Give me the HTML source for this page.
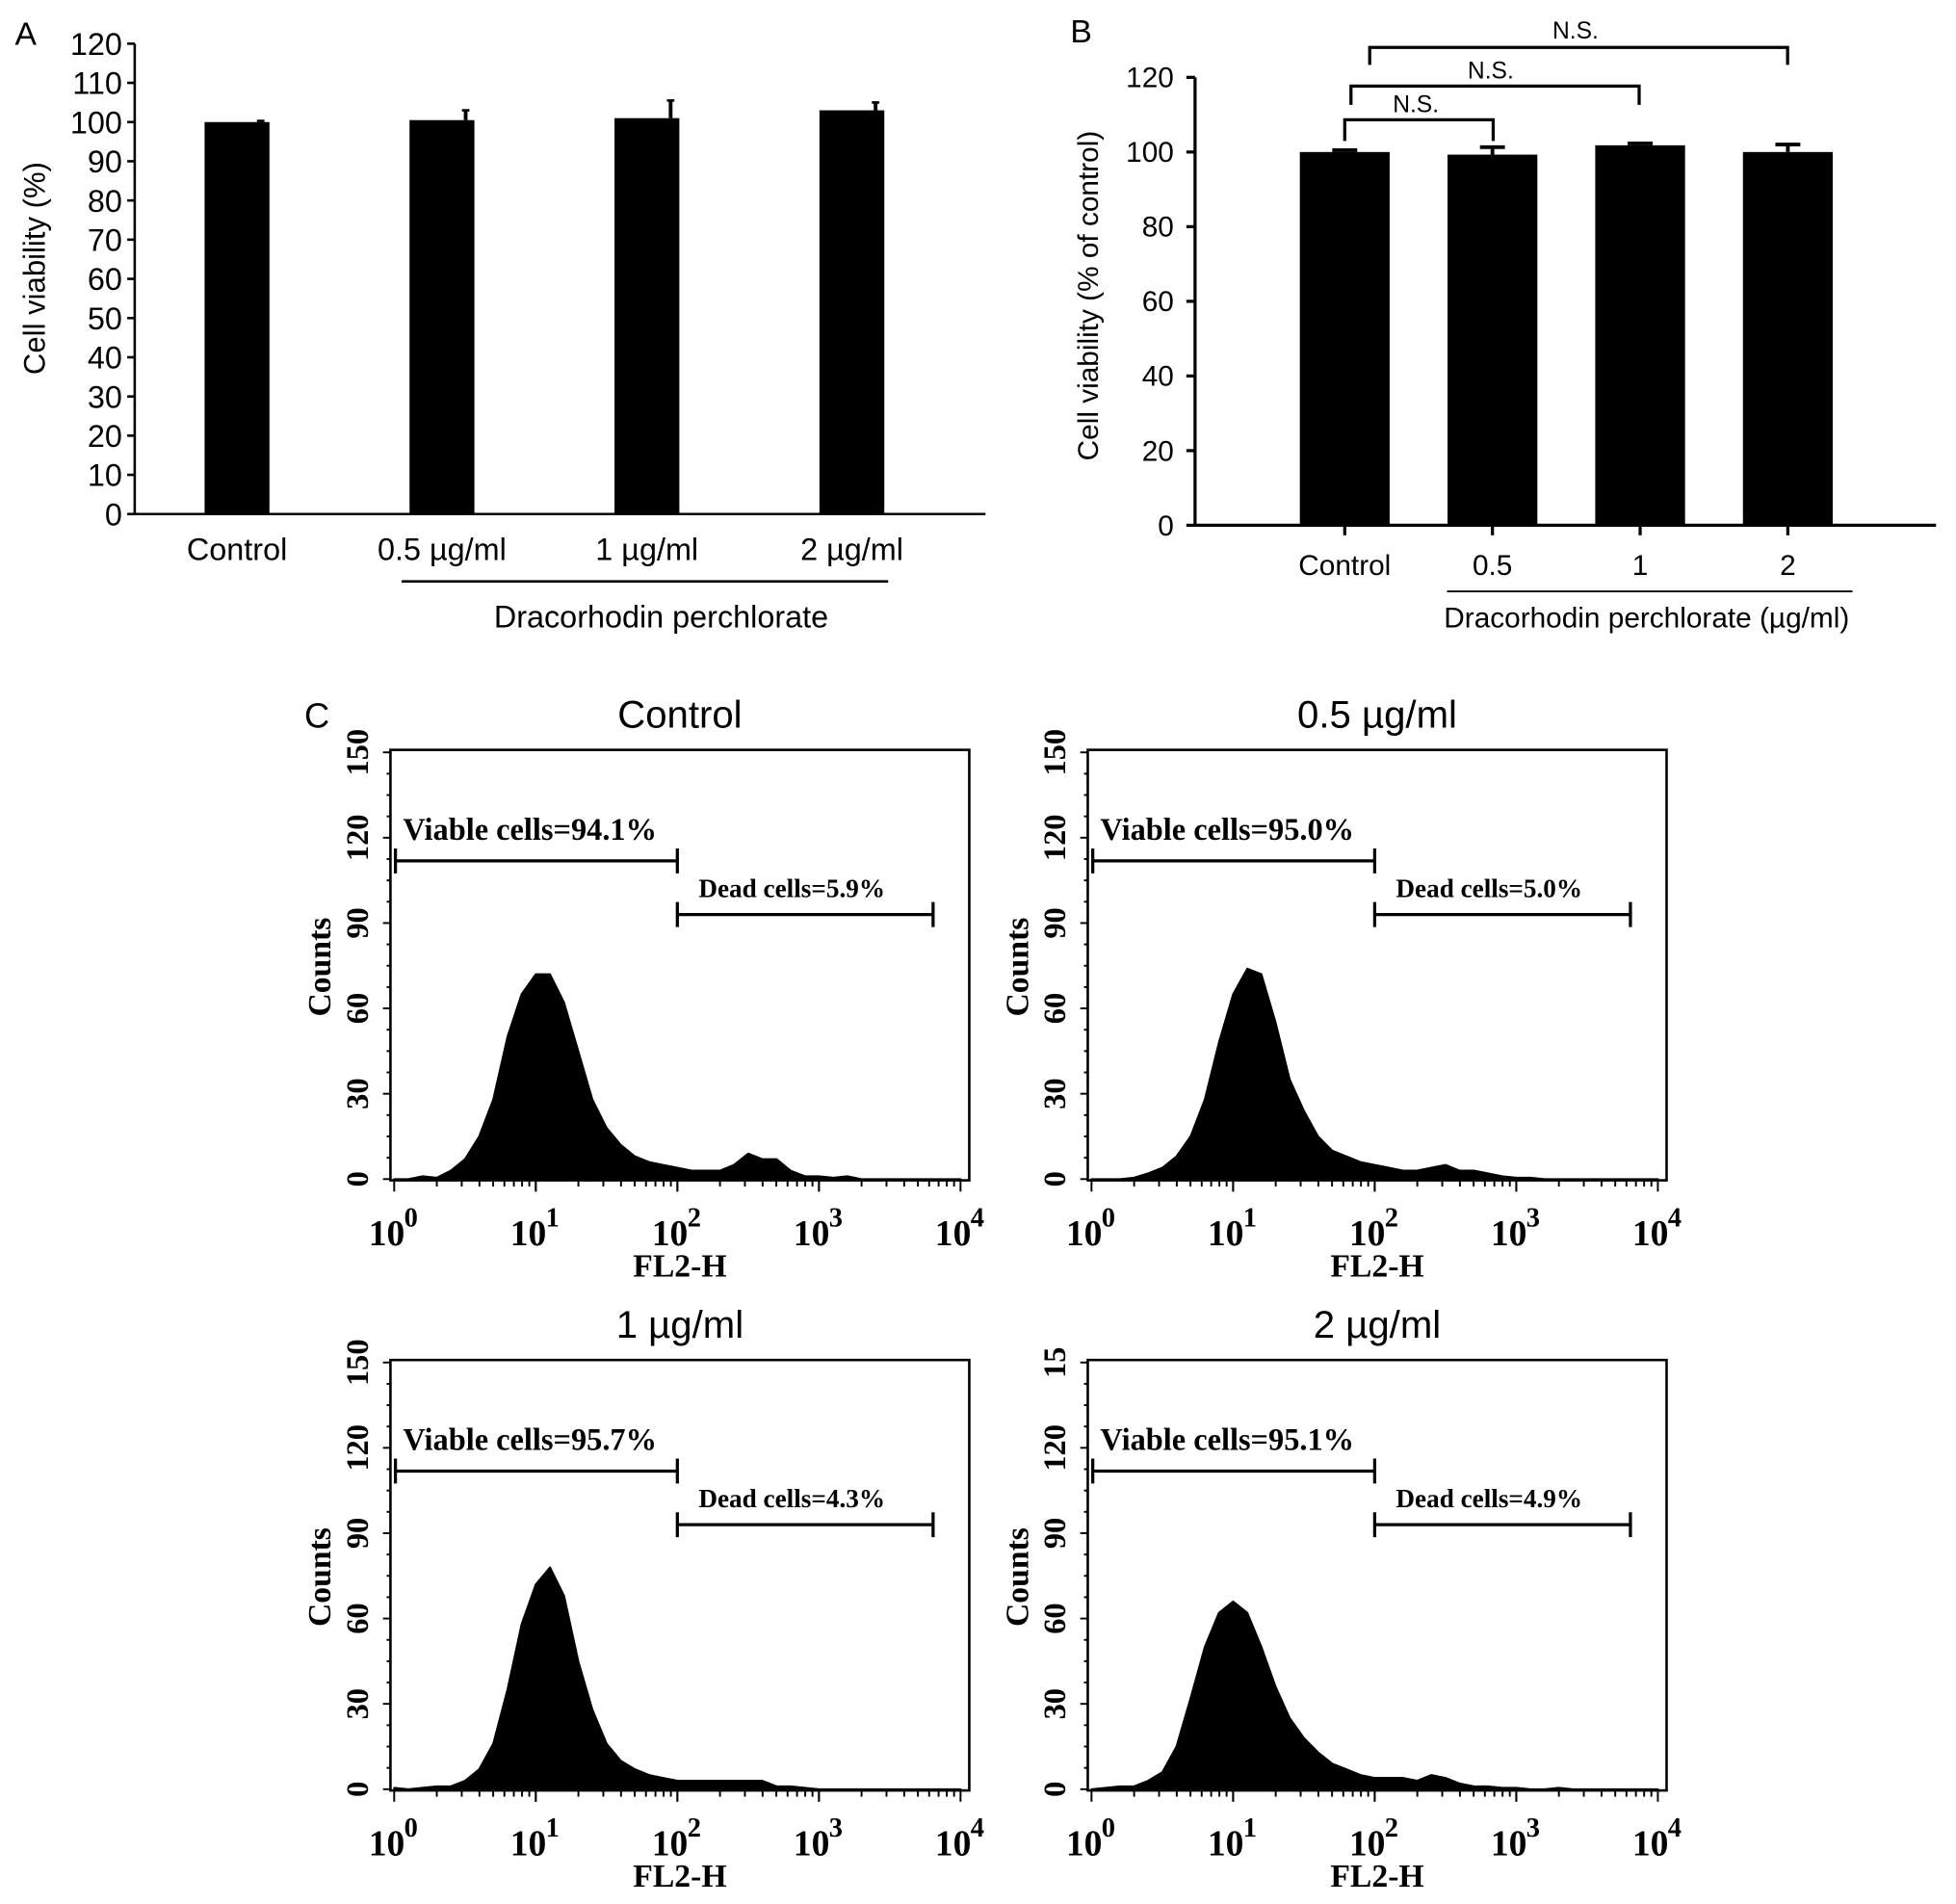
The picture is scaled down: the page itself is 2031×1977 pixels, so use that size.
<!DOCTYPE html>
<html><head><meta charset="utf-8"><style>
html,body{margin:0;padding:0;background:#fff;}
svg{display:block;}
.s{font-family:"Liberation Sans",sans-serif;}
.r{font-family:"Liberation Serif",serif;font-weight:bold;}
</style></head><body>
<svg id="fig" width="2031" height="1977" viewBox="0 0 1568 1526" preserveAspectRatio="none" xmlns="http://www.w3.org/2000/svg"></svg>
<script>
// Panel A data
const aCats = ["Control","0.5 µg/ml","1 µg/ml","2 µg/ml"];
const aVals = [100,100.5,101,103];
const aErr = [0.3,2.5,4.5,2];
const aTicks = [0,10,20,30,40,50,60,70,80,90,100,110,120];
// Panel B data
const bCats = ["Control","0.5","1","2"];
const bVals = [100,99.3,101.8,100];
const bErr = [0.5,2,0.5,2];
const bTicks = [0,20,40,60,80,100,120];
// Panel C data: counts at log10(FL2-H) = 0.0,0.1,...,4.0
const cTitles = ["Control","0.5 µg/ml","1 µg/ml","2 µg/ml"];
const cViable = ["Viable cells=94.1%","Viable cells=95.0%","Viable cells=95.7%","Viable cells=95.1%"];
const cDead = ["Dead cells=5.9%","Dead cells=5.0%","Dead cells=4.3%","Dead cells=4.9%"];
const cYTop = ["150","150","150","15"];
const hControl = [0,0,1,0.5,3,7,15,28,50,65,72,72,62,45,28,18,12,8,6,5,4,3,3,3,5,9,7,7,3,1,1,0.5,1,0,0,0,0,0,0,0,0];
const hHalf = [0,0,0,0.5,2,4,8,15,28,48,65,74,72,55,35,24,15,10,8,6,5,4,3,3,4,5,3,3,2,1,0.5,0.5,0,0,0,0,0,0,0,0,0];
const hOne = [0.5,0,0.5,1,1,3,7,16,35,58,72,78,68,45,28,16,10,7,5,4,3,3,3,3,3,3,3,1,1,0.5,0,0,0,0,0,0,0,0,0,0,0];
const hTwo = [0,0.5,1,1,3,6,15,32,50,62,66,62,50,36,25,18,13,9,7,5,4,4,4,3,5,4,2,1,1,0.5,0.5,0,0,0.5,0,0,0,0,0,0,0];
const cHists = [hControl,hHalf,hOne,hTwo];
const cTicks = [0,30,60,90,120,150];

const svg = document.getElementById('fig');
const NS = 'http://www.w3.org/2000/svg';
function mk(tag, at, parent){const e=document.createElementNS(NS,tag);for(const k in at)e.setAttribute(k,at[k]);(parent||svg).appendChild(e);return e;}
function tx(x,y,s,at,parent){const e=mk('text',Object.assign({x:x,y:y},at),parent);e.textContent=s;return e;}

// ---------- Panel A ----------
(function(){
  const g=mk('g',{});
  
  
  const x0=108,y0=412,y1=35,xr=790;
  const ys=v=>y0-(v/120)*(y0-y1);
  const xc=i=>190+i*164.3;
  const l=tx(12,36,'A',{class:'s','font-size':26},g);
  
  
  mk('line',{x1:x0,y1:y1,x2:x0,y2:y0,stroke:'#000','stroke-width':2},g);
  mk('line',{x1:x0,y1:y0,x2:xr,y2:y0,stroke:'#000','stroke-width':2},g);
  aTicks.forEach(t=>{
    mk('line',{x1:x0-6,y1:ys(t),x2:x0,y2:ys(t),stroke:'#000','stroke-width':2},g);
    const e=tx(98,ys(t)+9,String(t),{class:'s','font-size':25,'text-anchor':'end'},g);
    
    
  });
  aVals.forEach((v,i)=>{
    const b=mk('rect',{x:xc(i)-26,y:ys(v),width:52,height:y0-ys(v),fill:'#000'},g);
    
    
    mk('line',{x1:xc(i)+19,y1:ys(v),x2:xc(i)+19,y2:ys(v+aErr[i]),stroke:'#000','stroke-width':3},g);
    mk('line',{x1:xc(i)+16,y1:ys(v+aErr[i]),x2:xc(i)+22,y2:ys(v+aErr[i]),stroke:'#000','stroke-width':2},g);
    const e=tx(xc(i),449,aCats[i],{class:'s','font-size':25,'text-anchor':'middle'},g);
    
    
  });
  mk('line',{x1:322,y1:466,x2:712,y2:466,stroke:'#000','stroke-width':2},g);
  const t=tx(530,503,'Dracorhodin perchlorate',{class:'s','font-size':25,'text-anchor':'middle'},g);
  
  
  const yt=tx(0,0,'Cell viability (%)',{class:'s','font-size':24,'text-anchor':'middle',transform:'translate(36,215) rotate(-90)'},g);
  
  
})();

// ---------- Panel B ----------
(function(){
  const g=mk('g',{});
  
  
  const x0=958,y0=421,y1=62,xr=1552;
  const ys=v=>y0-(v/120)*(y0-y1);
  const xc=i=>1078+i*118.4;
  const l=tx(858,34,'B',{class:'s','font-size':26},g);
  
  
  mk('line',{x1:x0,y1:y1,x2:x0,y2:y0,stroke:'#000','stroke-width':2.5},g);
  mk('line',{x1:x0,y1:y0,x2:xr,y2:y0,stroke:'#000','stroke-width':2.5},g);
  bTicks.forEach(t=>{
    mk('line',{x1:x0-7,y1:ys(t),x2:x0,y2:ys(t),stroke:'#000','stroke-width':2.5},g);
    const e=tx(941,ys(t)+8,String(t),{class:'s','font-size':23,'text-anchor':'end'},g);
    
    
  });
  bVals.forEach((v,i)=>{
    const b=mk('rect',{x:xc(i)-36,y:ys(v),width:72,height:y0-ys(v),fill:'#000'},g);
    
    
    mk('line',{x1:xc(i),y1:ys(v),x2:xc(i),y2:ys(v+bErr[i]),stroke:'#000','stroke-width':3},g);
    mk('line',{x1:xc(i)-10,y1:ys(v+bErr[i]),x2:xc(i)+10,y2:ys(v+bErr[i]),stroke:'#000','stroke-width':3},g);
    mk('line',{x1:xc(i),y1:y0,x2:xc(i),y2:y0+8,stroke:'#000','stroke-width':2.5},g);
    const e=tx(xc(i),461,bCats[i],{class:'s','font-size':23,'text-anchor':'middle'},g);
    
    
  });
  mk('line',{x1:1160,y1:474,x2:1485,y2:474,stroke:'#000','stroke-width':1.5},g);
  const t=tx(1320,503,'Dracorhodin perchlorate (µg/ml)',{class:'s','font-size':23,'text-anchor':'middle'},g);
  
  
  const yt=tx(0,0,'Cell viability (% of control)',{class:'s','font-size':23,'text-anchor':'middle',transform:'translate(880,237) rotate(-90)'},g);
  
  
  const br=[[1078,1197,96,113,113,1135,90],[1083,1314,69,84,84,1195,63],[1098,1433,38,52,52,1263,31]];
  br.forEach((b,k)=>{
    const p=mk('path',{d:`M${b[0]},${b[3]} V${b[2]} H${b[1]} V${b[4]}`,fill:'none',stroke:'#000','stroke-width':2.5},g);
    
    
    const e=tx(b[5],b[6],'N.S.',{class:'s','font-size':19,'text-anchor':'middle'},g);
    
    
  });
})();

// ---------- Panel C ----------
const lbl=tx(244,583,'C',{class:'s','font-size':28});


cHists.forEach((h,k)=>{
  const dx=(k%2)*559, dy=Math.floor(k/2)*489;
  const g=mk('g',{transform:`translate(${dx},${dy})`});
  
  
  const L=313,R=777,T=601,B=946;
  const xs=lg=>316+lg*113.5;
  const ys=c=>945-(c/150)*(945-603);
  const tt=tx(545,583,cTitles[k],{class:'s','font-size':31,'text-anchor':'middle'},g);
  
  
  let d=`M${xs(0)},${ys(0)}`;
  h.forEach((c,i)=>{const x=xs(i*0.1);d+=` L${x.toFixed(1)},${ys(c).toFixed(1)}`;});
  d+=` L${xs(4)},${ys(0)} Z`;
  const a=mk('path',{d:d,fill:'#000',stroke:'#000','stroke-width':1.5,'stroke-linejoin':'round'},g);
  
  
  mk('rect',{x:L,y:T,width:R-L,height:B-T,fill:'none',stroke:'#000','stroke-width':2},g);
  for(let c=0;c<=150;c+=7.5){mk('line',{x1:L-(c%30===0?6:3),y1:ys(c),x2:L,y2:ys(c),stroke:'#000','stroke-width':1.5},g);}
  cTicks.forEach((c,i)=>{
    const s=(i===cTicks.length-1)?cYTop[k]:String(c);
    const e=tx(0,0,s,{class:'r','font-size':25,'text-anchor':'middle',transform:`translate(295,${ys(c)}) rotate(-90)`},g);
    
    
  });
  for(let dd=0;dd<4;dd++){for(let m=1;m<=10;m++){const x=xs(dd+Math.log10(m));mk('line',{x1:x,y1:B,x2:x,y2:B+(m===1||m===10?9:5),stroke:'#000','stroke-width':1.5},g);}}
  for(let dd=0;dd<=4;dd++){
    const e=tx(xs(dd)-6,998,'10',{class:'r','font-size':29,'text-anchor':'middle'},g);
    
    
    tx(xs(dd)+8,983,String(dd),{class:'r','font-size':22,'font-weight':'normal'},g);
  }
  const xt=tx(545,1023,'FL2-H',{class:'r','font-size':26,'text-anchor':'middle'},g);
  
  
  const yt=tx(0,0,'Counts',{class:'r','font-size':26,'text-anchor':'middle',transform:'translate(265,775) rotate(-90)'},g);
  
  
  mk('path',{d:'M317,680 V700 M317,690 H543 M543,680 V700',fill:'none',stroke:'#000','stroke-width':2.5},g);
  mk('path',{d:'M543,723 V743 M543,733 H748 M748,723 V743',fill:'none',stroke:'#000','stroke-width':2.5},g);
  const v=tx(323,673,cViable[k],{class:'r','font-size':25},g);
  
  
  const de=tx(560,719,cDead[k],{class:'r','font-size':21},g);
  
  
});
</script>
</body></html>
